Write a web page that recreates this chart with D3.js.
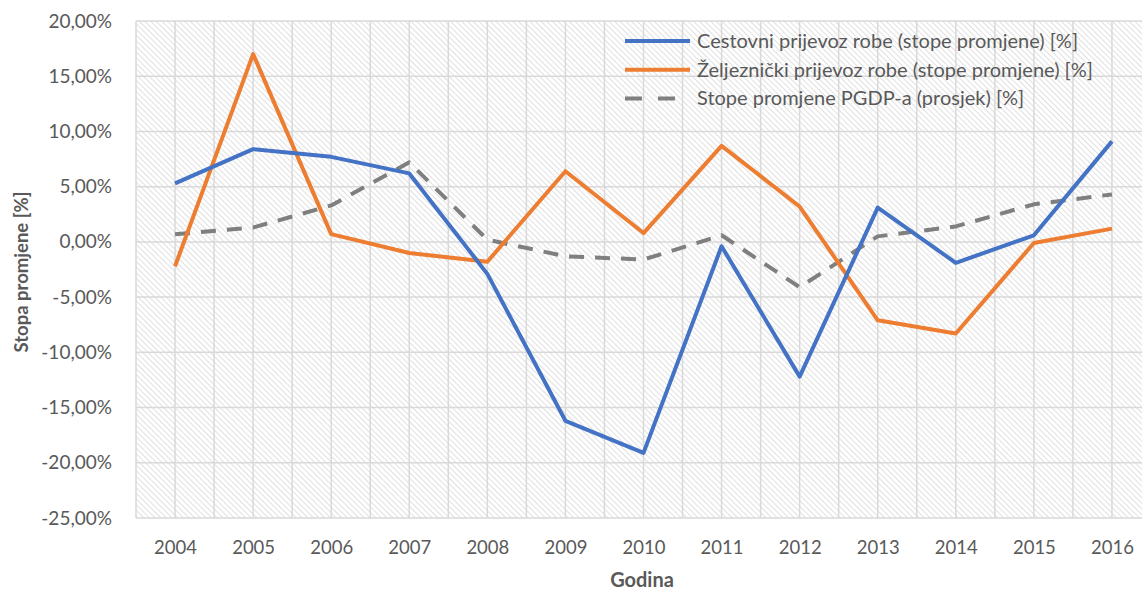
<!DOCTYPE html>
<html>
<head>
<meta charset="utf-8">
<script src="https://cdn.jsdelivr.net/npm/d3@7"></script>
<style>
  body { margin: 0; background: #fff; }
  svg { display: block; }
  text { font-family: Lato, "Open Sans", sans-serif; fill: #595959; }
</style>
</head>
<body>
<svg id="chart"></svg>
<script>
let width = 1142;
let height = 590;

let years = ['2004', '2005', '2006', '2007', '2008', '2009', '2010', '2011', '2012', '2013', '2014', '2015', '2016'];
let cestovni = [5.3, 8.4, 7.7, 6.2, -2.9, -16.2, -19.1, -0.4, -12.2, 3.1, -1.9, 0.6, 9.1];
let zeljeznicki = [-2.2, 17.0, 0.7, -1.0, -1.8, 6.4, 0.8, 8.7, 3.2, -7.1, -8.3, -0.1, 1.2];
let pgdp = [0.7, 1.3, 3.3, 7.2, 0.2, -1.3, -1.6, 0.6, -4.1, 0.5, 1.4, 3.4, 4.3];
let yTicks = [20, 15, 10, 5, 0, -5, -10, -15, -20, -25];

let series = [
  { name: 'Cestovni prijevoz robe (stope promjene) [%]', values: cestovni, color: '#4472C4', dash: null },
  { name: 'Željeznički prijevoz robe (stope promjene) [%]', values: zeljeznicki, color: '#ED7D31', dash: null },
  { name: 'Stope promjene PGDP-a (prosjek) [%]', values: pgdp, color: '#7F7F7F', dash: '15,11' },
];

let plotLeft = 136, plotRight = 1151, plotTop = 21, plotBottom = 518;

let svg = d3.select('#chart').attr('width', width).attr('height', height);

// diagonal hatch fill of the plot area
let defs = svg.append('defs');
let pat = defs.append('pattern')
  .attr('id', 'hatch')
  .attr('patternUnits', 'userSpaceOnUse')
  .attr('width', 4)
  .attr('height', 4)
  .attr('patternTransform', 'rotate(45)');
pat.append('rect').attr('width', 4).attr('height', 4).attr('fill', '#ffffff');
pat.append('line')
  .attr('x1', 0).attr('y1', 0).attr('x2', 4).attr('y2', 0)
  .attr('stroke', '#d9d9d9').attr('stroke-width', 1.6);

let x = d3.scalePoint().domain(years).range([plotLeft, plotRight]).padding(0.5);
let y = d3.scaleLinear().domain([-25, 20]).range([plotBottom, plotTop]);

svg.append('rect')
  .attr('x', plotLeft).attr('y', plotTop)
  .attr('width', plotRight - plotLeft).attr('height', plotBottom - plotTop)
  .attr('fill', 'url(#hatch)');

// vertical grid at category centres and boundaries
let step = x.step();
let vlines = [];
years.forEach((yr) => {
  vlines.push(x(yr) - step / 2);
  vlines.push(x(yr));
});
vlines.push(plotRight);

svg.append('g').selectAll('line')
  .data(vlines)
  .enter()
  .append('line')
  .attr('x1', (d) => d).attr('x2', (d) => d)
  .attr('y1', plotTop).attr('y2', plotBottom)
  .attr('stroke', '#d9d9d9').attr('stroke-width', 1.5);

svg.append('g').selectAll('line')
  .data(yTicks)
  .enter()
  .append('line')
  .attr('x1', plotLeft).attr('x2', plotRight)
  .attr('y1', (d) => y(d)).attr('y2', (d) => y(d))
  .attr('stroke', '#d9d9d9').attr('stroke-width', 1.5);

// axes
let fmt = (d) => d.toFixed(2).replace('.', ',') + '%';

let yAxis = svg.append('g')
  .attr('transform', `translate(${plotLeft},0)`)
  .call(d3.axisLeft(y).tickValues(yTicks).tickFormat(fmt).tickSize(0).tickPadding(24));
yAxis.select('.domain').remove();
yAxis.selectAll('text').attr('font-size', 19).attr('fill', '#595959').style('font-family', 'Lato, sans-serif');

let xAxis = svg.append('g')
  .attr('transform', `translate(0,${plotBottom})`)
  .call(d3.axisBottom(x).tickSize(0).tickPadding(23));
xAxis.select('.domain').remove();
xAxis.selectAll('text').attr('font-size', 18.5).attr('fill', '#595959').style('font-family', 'Lato, sans-serif');

// lines
let line = d3.line()
  .x((d, i) => x(years[i]))
  .y((d) => y(d));

svg.append('g').selectAll('path')
  .data(series.slice().reverse())
  .enter()
  .append('path')
  .attr('d', (d) => line(d.values))
  .attr('fill', 'none')
  .attr('stroke', (d) => d.color)
  .attr('stroke-width', 4)
  .attr('stroke-dasharray', (d) => d.dash)
  .attr('stroke-linejoin', 'round');

// legend
let legend = svg.append('g')
  .selectAll('g')
  .data(series)
  .enter()
  .append('g')
  .attr('transform', (d, i) => `translate(625,${41 + i * 28.7})`);

legend.append('line')
  .attr('x1', 0).attr('x2', 65)
  .attr('stroke', (d) => d.color)
  .attr('stroke-width', 4)
  .attr('stroke-dasharray', (d) => (d.dash ? '17,16' : null));

legend.append('text')
  .attr('x', 72)
  .attr('dy', '0.35em')
  .attr('font-size', 20)
  .text((d) => d.name);

// titles
svg.append('text')
  .attr('x', 642)
  .attr('y', 587)
  .attr('text-anchor', 'middle')
  .attr('font-size', 20)
  .attr('font-weight', 'bold')
  .text('Godina');

svg.append('text')
  .attr('transform', `translate(28,272) rotate(-90)`)
  .attr('text-anchor', 'middle')
  .attr('font-size', 18.5)
  .attr('font-weight', 'bold')
  .text('Stopa promjene [%]');
</script>
</body>
</html>
